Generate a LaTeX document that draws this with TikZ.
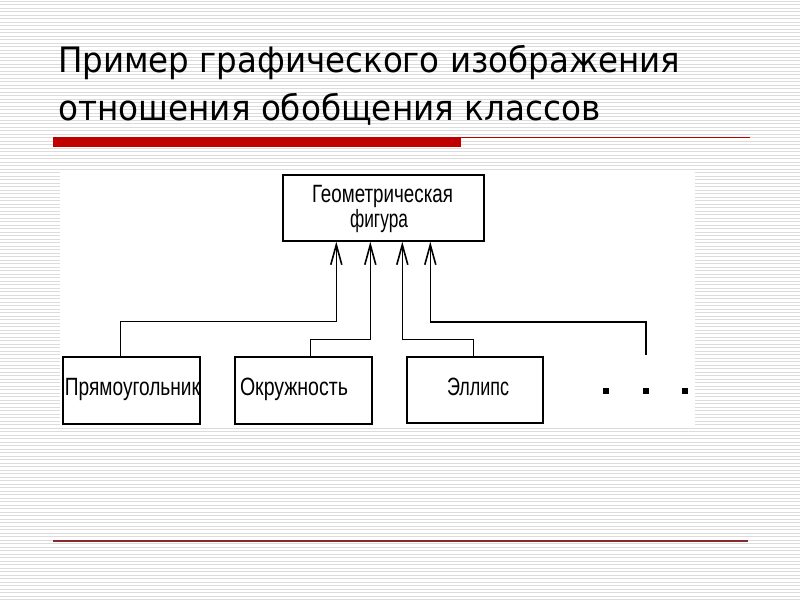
\documentclass[tikz,border=0pt]{standalone}
\usepackage{fontspec}
\usepackage{graphicx}
\usetikzlibrary{arrows.meta}
\setmainfont{Liberation Sans}
\newfontfamily\titlefont{DejaVu Sans}
\newcommand\fitw[2]{\resizebox{#1}{\height}{#2}}
\definecolor{stripe}{HTML}{DCDCDC}
\definecolor{barred}{HTML}{C00000}
\definecolor{darkred}{HTML}{8B2A2A}
\tikzset{
  stripeline/.style={stripe, line width=1pt},
  classbox/.style={draw=black, line width=1.4pt, rectangle, inner sep=0pt},
  boxfont/.style={font=\fontsize{25}{27}\selectfont},
  gen/.style={draw=black, line width=1.4pt, -{Straight Barb[length=20pt,width=11pt,line width=1.6pt]}},
  titletext/.style={anchor=base west, inner sep=0pt, font=\titlefont\fontsize{35}{37}\selectfont},
  dotbox/.style={fill=black, minimum size=6pt, inner sep=0pt, rectangle}
}
\begin{document}
\begin{tikzpicture}[x=1pt,y=-1pt]
\useasboundingbox (0,0) rectangle (800,600);
\fill[white] (0,0) rectangle (800,600);
\foreach \yy in {1,4.5,...,600} {\draw[stripeline] (0,\yy) -- (800,\yy);}
% title
\node[titletext] (t1) at (58,72) {\fitw{622pt}{Пример графического изображения}};
\node[titletext] (t2) at (58,120) {\fitw{542pt}{отношения обобщения классов}};
% red bars
\fill[barred] (53,137) rectangle (461,147);
\draw[barred, line width=1pt] (461,137.5) -- (750,137.5);
\draw[darkred, line width=2pt] (53,541) -- (748,541);
% diagram area
\fill[white] (60,172) rectangle (695,425);
% boxes
\node[classbox, minimum width=201pt, minimum height=66pt] (top) at (383.5,208) {};
\node[anchor=base, inner sep=0pt, boxfont] (g1) at (382.5,202) {\fitw{141pt}{Геометрическая}};
\node[anchor=base, inner sep=0pt, boxfont] (g2) at (379,227) {\fitw{58pt}{фигура}};
\node[classbox, minimum width=137pt, minimum height=67pt] (r1) at (131.5,390.5) {};
\node[anchor=base, inner sep=0pt, boxfont] (l1) at (132.5,395) {\fitw{135pt}{Прямоугольник}};
\node[classbox, minimum width=137pt, minimum height=67pt] (r2) at (303.5,390.5) {};
\node[anchor=base, inner sep=0pt, boxfont] (l2) at (294,395) {\fitw{108pt}{Окружность}};
\node[classbox, minimum width=136pt, minimum height=66pt] (r3) at (475,390) {};
\node[anchor=base, inner sep=0pt, boxfont] (l3) at (478,395) {\fitw{62pt}{Эллипс}};
% dots
\node[dotbox] (d1) at (606,391) {};
\node[dotbox] (d2) at (646,391) {};
\node[dotbox] (d3) at (685,391) {};
\coordinate (dtop) at (646,355);
% generalization connectors
\draw[gen] ([xshift=58pt]r1.north west) -- ++(0,-35) -| ([xshift=54pt]top.south west);
\draw[gen] ([xshift=76pt]r2.north west) -- ++(0,-17) -| ([xshift=88pt]top.south west);
\draw[gen] ([xshift=67pt]r3.north west) -- ++(0,-17) -| ([xshift=120pt]top.south west);
\draw[gen] (dtop) -- ++(0,-33) -| ([xshift=148pt]top.south west);
\end{tikzpicture}
\end{document}
